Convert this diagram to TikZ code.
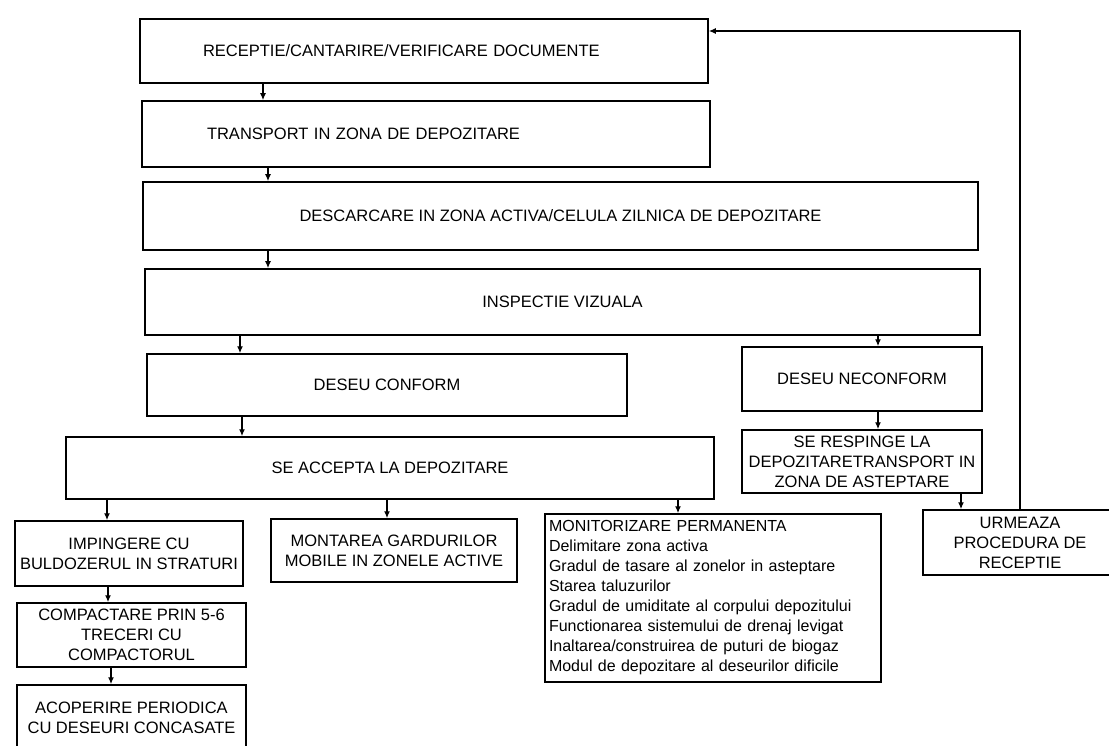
\documentclass[tikz,border=0pt]{standalone}
\usepackage{fontspec}
\setmainfont{Liberation Sans}
\usetikzlibrary{arrows.meta}

\begin{document}
\begin{tikzpicture}[x=1pt, y=-1pt,
  box/.style = {draw, line width=1.5pt, inner sep=2pt, align=center, font=\fontsize{16.5}{20}\selectfont},
  link/.style = {line width=1.3pt, -{Latex[length=7pt, width=6pt]}}]
\useasboundingbox (0,0) rectangle (1109,746);

% main column
\node[box, text width=442pt, align=left, inner xsep=63pt, minimum height=64pt] (rec) at (424,51) {RECEPTIE/CANTARIRE/VERIFICARE DOCUMENTE};
\node[box, text width=438pt, align=left, inner xsep=65pt, minimum height=66pt] (trans) at (426,134) {TRANSPORT IN ZONA DE DEPOZITARE};
\node[box, minimum width=835pt, minimum height=68pt] (desc) at (560.5,216) {DESCARCARE IN ZONA ACTIVA/CELULA ZILNICA DE DEPOZITARE};
\node[box, minimum width=835pt, minimum height=66pt] (insp) at (562.5,302) {INSPECTIE VIZUALA};

% branches
\node[box, minimum width=480pt, minimum height=62pt] (conf) at (387,385) {DESEU CONFORM};
\node[box, minimum width=240pt, minimum height=64pt] (necon) at (862,379) {DESEU NECONFORM};
\node[box, minimum width=648pt, minimum height=62pt] (acc) at (390,468) {SE ACCEPTA LA DEPOZITARE};
\node[box, minimum width=240pt, minimum height=63pt, inner xsep=0pt] (resp) at (862,461.5) {SE RESPINGE LA\\DEPOZITARETRANSPORT IN\\ZONA DE ASTEPTARE};

% bottom row
\node[box, minimum width=228pt, minimum height=65pt, inner xsep=0pt] (imp) at (129,553.5) {IMPINGERE CU\\BULDOZERUL IN STRATURI};
\node[box, minimum width=246pt, minimum height=63pt] (mont) at (394,550.5) {MONTAREA GARDURILOR\\MOBILE IN ZONELE ACTIVE};
\node[box, font=\fontsize{16}{20}\selectfont, text width=328pt, align=left, inner xsep=4pt, minimum height=168pt] (monit) at (713,598) {MONITORIZARE PERMANENTA\\Delimitare zona activa\\Gradul de tasare al zonelor in asteptare\\Starea taluzurilor\\Gradul de umiditate al corpului depozitului\\Functionarea sistemului de drenaj levigat\\Inaltarea/construirea de puturi de biogaz\\Modul de depozitare al deseurilor dificile};
\node[box, minimum width=194pt, minimum height=65pt] (urm) at (1020,542.5) {URMEAZA\\PROCEDURA DE\\RECEPTIE};
\node[box, minimum width=229pt, minimum height=64pt] (comp) at (131.5,635) {COMPACTARE PRIN 5-6\\TRECERI CU\\COMPACTORUL};
\node[box, minimum width=229pt, minimum height=66pt] (acop) at (131.5,718) {ACOPERIRE PERIODICA\\CU DESEURI CONCASATE};

% arrows
\draw[link] (263,0 |- rec.south) -- (263,0 |- trans.north);
\draw[link] (268,0 |- trans.south) -- (268,0 |- desc.north);
\draw[link] (268,0 |- desc.south) -- (268,0 |- insp.north);
\draw[link] (240,0 |- insp.south) -- (240,0 |- conf.north);
\draw[link] (878,0 |- insp.south) -- (878,0 |- necon.north);
\draw[link] (242,0 |- conf.south) -- (242,0 |- acc.north);
\draw[link] (878,0 |- necon.south) -- (878,0 |- resp.north);
\draw[link] (107,0 |- acc.south) -- (107,0 |- imp.north);
\draw[link] (387,0 |- acc.south) -- (387,0 |- mont.north);
\draw[link] (678,0 |- acc.south) -- (678,0 |- monit.north);
\draw[link] (961,0 |- resp.south) -- (961,0 |- urm.north);
\draw[link] (108,0 |- imp.south) -- (108,0 |- comp.north);
\draw[link] (111,0 |- comp.south) -- (111,0 |- acop.north);
%back to reception
\draw[link] (1020,0 |- urm.north) |- (rec.east |- 0,31);

\end{tikzpicture}
\end{document}
